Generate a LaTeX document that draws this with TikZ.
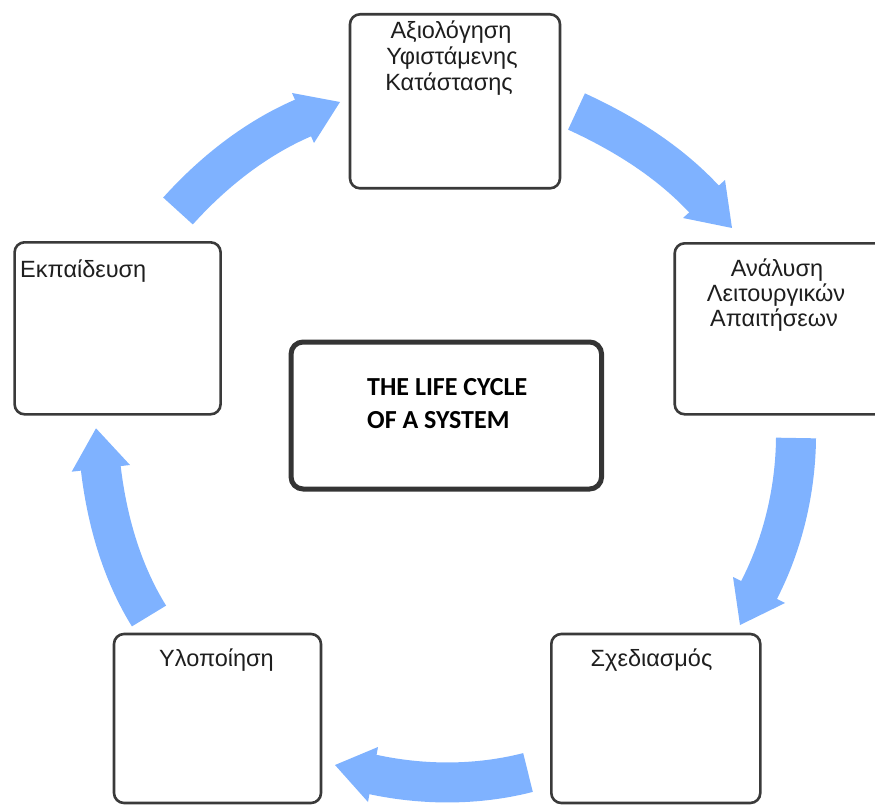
\documentclass[tikz,border=0pt]{standalone}
\usepackage{fontspec}
\setmainfont{Liberation Sans}
\newfontfamily\calib{Carlito}
\definecolor{arrowblue}{HTML}{7FB2FF}
\definecolor{boxline}{HTML}{3A3A3A}
\definecolor{txt}{HTML}{1E1E1E}
\tikzset{
  box/.style={draw=boxline, line width=2.6pt, rounded corners=10pt, fill=white, inner sep=0pt},
  cbox/.style={draw=boxline!90!black, line width=5pt, rounded corners=12pt, fill=white, inner sep=0pt},
  gtext/.style={font=\fontsize{23.5}{26}\selectfont, text=txt, inner sep=0pt, anchor=base},
  ctext/.style={font=\calib\bfseries\fontsize{26}{26}\selectfont, text=black, inner sep=0pt, anchor=base west},
  flow/.style={draw=arrowblue, line width=40pt, line cap=butt},
  head/.style={fill=arrowblue}
}
\begin{document}
\begin{tikzpicture}[x=1pt,y=-1pt]
\useasboundingbox (0,0) rectangle (875,805);
\clip (0,0) rectangle (875,805);
% arrows
\coordinate (a1s) at (178,211);   \coordinate (a1b) at (303,118);   \coordinate (a1e) at (305.8,116.8);
\coordinate (a1l) at (292,93);    \coordinate (a1r) at (314,143);   \coordinate (a1t) at (340,102);
\coordinate (a2s) at (576.5,111.5); \coordinate (a2b) at (704,199); \coordinate (a2e) at (706,201.2);
\coordinate (a2l) at (725,180);   \coordinate (a2r) at (683,218);   \coordinate (a2t) at (732,228);
\coordinate (a3s) at (796,438);   \coordinate (a3b) at (759,590);   \coordinate (a3e) at (757.6,592.7);
\coordinate (a3l) at (733,577);   \coordinate (a3r) at (785,603);   \coordinate (a3t) at (740,625);
\coordinate (a4s) at (528,772.5); \coordinate (a4b) at (373,774.5); \coordinate (a4e) at (370.1,773.9);
\coordinate (a4l) at (378,747);   \coordinate (a4r) at (368,802);   \coordinate (a4t) at (335,765);
\coordinate (a5s) at (149,616);   \coordinate (a5b) at (100.8,468.3); \coordinate (a5e) at (100.5,465.3);
\coordinate (a5l) at (71.7,471.7); \coordinate (a5r) at (130,465);  \coordinate (a5t) at (96,428.3);

\draw[flow] (a1s) .. controls (212.7,172.4) and (255.3,138.6) .. (a1b) -- (a1e);
\fill[head] (a1l) -- (a1t) -- (a1r) -- cycle;
\draw[flow] (a2s) .. controls (623.8,133.2) and (668.5,161) .. (a2b) -- (a2e);
\fill[head] (a2l) -- (a2t) -- (a2r) -- cycle;
\draw[flow] (a3s) .. controls (795.5,490) and (782.9,543.9) .. (a3b) -- (a3e);
\fill[head] (a3l) -- (a3t) -- (a3r) -- cycle;
\draw[flow] (a4s) .. controls (477.7,785.4) and (423.8,785.4) .. (a4b) -- (a4e);
\fill[head] (a4l) -- (a4t) -- (a4r) -- cycle;
\draw[flow] (a5s) .. controls (121.6,571.8) and (106.9,519.9) .. (a5b) -- (a5e);
\fill[head] (a5l) -- (a5t) -- (a5r) -- cycle;

% boxes
\node[box, minimum width=210pt, minimum height=174pt] (top) at (455,101.3) {};
\node[box, minimum width=212pt, minimum height=171pt] (right) at (780.7,328.8) {};
\node[box, minimum width=206pt, minimum height=172pt] (left) at (117.6,328.3) {};
\node[box, minimum width=207pt, minimum height=169pt] (bl) at (217.5,718.5) {};
\node[box, minimum width=209pt, minimum height=169pt] (br) at (655.8,718.5) {};
\node[cbox, minimum width=310.5pt, minimum height=147pt] (center) at (446.3,415.5) {};

% texts
\node[gtext] (top1) at (451,38.3) {Αξιολόγηση};
\node[gtext] (top2) at (452,64.5) {Υφιστάμενης};
\node[gtext] (top3) at (449,90.5) {Κατάστασης};
\node[gtext] (r1) at (777,276.7) {Ανάλυση};
\node[gtext] (r2) at (776,301.7) {Λειτουργικών};
\node[gtext] (r3) at (774,326.3) {Απαιτήσεων};
\node[gtext, anchor=base west] (l1) at (20,277.7) {Εκπαίδευση};
\node[gtext] (bl1) at (216.5,666) {Υλοποίηση};
\node[gtext] (br1) at (651.5,666.7) {Σχεδιασμός};
\node[ctext] (c1) at (367,395) {THE LIFE CYCLE};
\node[ctext] (c2) at (367,428.3) {OF A SYSTEM};
\end{tikzpicture}
\end{document}
